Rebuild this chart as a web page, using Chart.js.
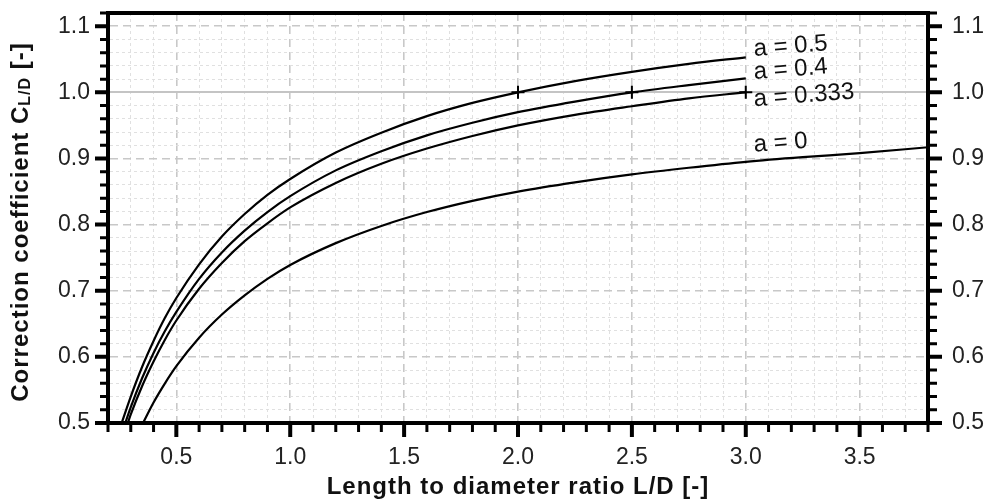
<!DOCTYPE html>
<html>
<head>
<meta charset="utf-8">
<script src="https://cdn.jsdelivr.net/npm/chart.js@4.4.1/dist/chart.umd.min.js"></script>
<style>
  html, body { margin: 0; padding: 0; background: #fff; }
  #wrap { width: 988px; height: 499px; position: relative; }
</style>
</head>
<body>
<div id="wrap"><canvas id="mycanvas"></canvas></div>
<script>
// curve values: L/D and C_L/D for each a
var ld_a05 = [0.26, 0.30, 0.35, 0.40, 0.45, 0.50, 0.60, 0.70, 0.80, 0.90, 1.00, 1.20, 1.40, 1.60, 1.80, 2.00, 2.25, 2.50, 2.75, 3.00];
var c_a05  = [0.500, 0.540, 0.585, 0.624, 0.659, 0.689, 0.740, 0.782, 0.816, 0.845, 0.869, 0.909, 0.939, 0.964, 0.984, 1.000, 1.017, 1.031, 1.043, 1.053];

var ld_a04 = [0.276, 0.30, 0.35, 0.40, 0.45, 0.50, 0.60, 0.70, 0.80, 0.90, 1.00, 1.20, 1.40, 1.60, 1.80, 2.00, 2.25, 2.50, 2.75, 3.00];
var c_a04  = [0.500, 0.524, 0.568, 0.606, 0.639, 0.668, 0.718, 0.758, 0.791, 0.819, 0.843, 0.882, 0.911, 0.935, 0.954, 0.970, 0.986, 1.000, 1.011, 1.021];

var ld_a0333 = [0.287, 0.30, 0.35, 0.40, 0.45, 0.50, 0.60, 0.70, 0.80, 0.90, 1.00, 1.20, 1.40, 1.60, 1.80, 2.00, 2.25, 2.50, 2.75, 3.00];
var c_a0333  = [0.500, 0.513, 0.556, 0.593, 0.626, 0.655, 0.703, 0.742, 0.775, 0.802, 0.826, 0.863, 0.892, 0.915, 0.934, 0.950, 0.966, 0.979, 0.991, 1.000];

var ld_a0 = [0.354, 0.40, 0.45, 0.50, 0.60, 0.70, 0.80, 0.90, 1.00, 1.20, 1.40, 1.60, 1.80, 2.00, 2.25, 2.50, 2.75, 3.00, 3.25, 3.50, 3.80];
var c_a0  = [0.500, 0.531, 0.560, 0.586, 0.629, 0.664, 0.693, 0.718, 0.739, 0.772, 0.798, 0.819, 0.836, 0.850, 0.864, 0.876, 0.886, 0.895, 0.902, 0.908, 0.917];

// points where curves reach C = 1 (plus markers)
var mark_ld = [2.0, 2.5, 3.0];
var mark_c  = [1.0, 1.0, 1.0];

var curveNames = ['a = 0.5', 'a = 0.4', 'a = 0.333', 'a = 0'];

var xTitle = 'Length to diameter ratio L/D [-]';
var yTitleMain = 'Correction coefficient C';
var yTitleSub = 'L/D';
var yTitleEnd = ' [-]';

function pts(xs, ys) {
  var out = [];
  for (var i in xs) out.push({x: xs[i], y: ys[i]});
  return out;
}
function onStep(v, step) {
  return Math.abs(v / step - Math.round(v / step)) < 1e-6;
}

var FONT = '"Liberation Sans", Arial, Helvetica, sans-serif';
Chart.defaults.font.family = FONT;
Chart.defaults.color = '#222';

// where the curve names sit (data coords, left end of text)
var nameSpots = [
  {x: 3.035, y: 1.065},
  {x: 3.035, y: 1.030},
  {x: 3.035, y: 0.989},
  {x: 3.035, y: 0.920}
];

var extras = {
  id: 'extras',
  afterDraw: function(chart) {
    var ctx = chart.ctx, area = chart.chartArea;
    var sx = chart.scales.x, sy = chart.scales.y;

    // tick marks outside the frame
    ctx.save();
    ctx.strokeStyle = '#000';
    sx.ticks.forEach(function(t) {
      var major = onStep(t.value, 0.5);
      var px = sx.getPixelForValue(t.value);
      ctx.lineWidth = major ? 4 : 3;
      ctx.beginPath();
      ctx.moveTo(px, area.bottom);
      ctx.lineTo(px, area.bottom + (major ? 14 : 9));
      ctx.stroke();
    });
    sy.ticks.forEach(function(t) {
      var major = onStep(t.value, 0.1);
      var py = sy.getPixelForValue(t.value);
      var len = major ? 13 : 8;
      ctx.lineWidth = major ? 4 : 3;
      ctx.beginPath();
      ctx.moveTo(area.left, py);
      ctx.lineTo(area.left - len, py);
      ctx.moveTo(area.right, py);
      ctx.lineTo(area.right + len + 1, py);
      ctx.stroke();
    });
    ctx.restore();

    // curve names
    ctx.save();
    ctx.fillStyle = '#111';
    ctx.font = '24px ' + FONT;
    ctx.textAlign = 'left';
    ctx.textBaseline = 'middle';
    curveNames.forEach(function(name, i) {
      var p = nameSpots[i];
      ctx.save();
      ctx.translate(sx.getPixelForValue(p.x), sy.getPixelForValue(p.y));
      ctx.rotate(-4.5 * Math.PI / 180);
      ctx.fillText(name, 0, 0);
      ctx.restore();
    });
    ctx.restore();

    // x axis title
    ctx.save();
    ctx.fillStyle = '#111';
    ctx.font = 'bold 24px ' + FONT;
    ctx.letterSpacing = '1px';
    ctx.textAlign = 'center';
    ctx.textBaseline = 'alphabetic';
    ctx.fillText(xTitle, (area.left + area.right) / 2, 494);
    ctx.restore();

    // y axis title with subscript
    ctx.save();
    ctx.fillStyle = '#111';
    ctx.letterSpacing = '1px';
    ctx.translate(21, (area.top + area.bottom) / 2 + 4);
    ctx.rotate(-Math.PI / 2);
    ctx.textAlign = 'left';
    ctx.textBaseline = 'middle';
    var fMain = 'bold 24px ' + FONT, fSub = 'bold 16px ' + FONT;
    ctx.font = fMain;
    var w1 = ctx.measureText(yTitleMain).width;
    var w3 = ctx.measureText(yTitleEnd).width;
    ctx.font = fSub;
    var w2 = ctx.measureText(yTitleSub).width;
    var x0 = -(w1 + w2 + w3) / 2;
    ctx.font = fMain;
    ctx.fillText(yTitleMain, x0, 0);
    ctx.font = fSub;
    ctx.fillText(yTitleSub, x0 + w1, 5);
    ctx.font = fMain;
    ctx.fillText(yTitleEnd, x0 + w1 + w2, 0);
    ctx.restore();
  }
};

function gridColor(step, isY) {
  return function(c) {
    if (!c.tick) return '#ccc';
    if (isY && Math.abs(c.tick.value - 1.0) < 1e-6) return '#c4c4c4';
    return onStep(c.tick.value, step) ? '#c8c8c8' : '#e0e0e0';
  };
}
function gridWidth(step, isY) {
  return function(c) {
    if (!c.tick) return 1;
    if (isY && Math.abs(c.tick.value - 1.0) < 1e-6) return 2;
    return onStep(c.tick.value, step) ? 1.6 : 1;
  };
}
function gridDash(step, isY) {
  return function(c) {
    if (!c.tick) return [];
    if (isY && Math.abs(c.tick.value - 1.0) < 1e-6) return [];
    return onStep(c.tick.value, step) ? [8, 5] : [3, 3];
  };
}
function fitV(w) {
  return function(s) { s.width = w; s.paddingTop = 0; s.paddingBottom = 0; };
}
function fitH(h) {
  return function(s) { s.height = h; s.paddingLeft = 0; s.paddingRight = 0; };
}

var lineStyle = {
  showLine: true,
  borderColor: '#000',
  borderWidth: 2.2,
  pointRadius: 0,
  fill: false,
  cubicInterpolationMode: 'monotone'
};

var chartdata = {
  datasets: [
    Object.assign({label: curveNames[0], data: pts(ld_a05, c_a05)}, lineStyle),
    Object.assign({label: curveNames[1], data: pts(ld_a04, c_a04)}, lineStyle),
    Object.assign({label: curveNames[2], data: pts(ld_a0333, c_a0333)}, lineStyle),
    Object.assign({label: curveNames[3], data: pts(ld_a0, c_a0)}, lineStyle),
    {
      label: 'C = 1',
      data: pts(mark_ld, mark_c),
      showLine: false,
      pointStyle: 'cross',
      pointRadius: 6.5,
      pointBorderWidth: 2,
      pointBorderColor: '#000',
      borderColor: '#000'
    }
  ]
};

var ctx = document.getElementById('mycanvas');
var graph = new Chart(ctx, {
  type: 'scatter',
  data: chartdata,
  plugins: [extras],
  options: {
    responsive: true,
    maintainAspectRatio: false,
    animation: false,
    events: [],
    layout: {padding: 0},
    plugins: {legend: {display: false}, tooltip: {enabled: false}},
    scales: {
      x: {
        type: 'linear', position: 'bottom', min: 0.2, max: 3.8,
        afterFit: fitH(76),
        ticks: {
          stepSize: 0.1, autoSkip: false, maxRotation: 0, padding: 21,
          font: {size: 23}, color: '#222',
          callback: function(v) { return onStep(v, 0.5) ? v.toFixed(1) : ''; }
        },
        grid: {color: gridColor(0.5, false), lineWidth: gridWidth(0.5, false), drawTicks: false},
        border: {display: true, color: '#000', width: 4, dash: gridDash(0.5, false)}
      },
      x2: {
        type: 'linear', position: 'top', min: 0.2, max: 3.8,
        afterFit: fitH(13),
        ticks: {display: false},
        grid: {drawOnChartArea: false, drawTicks: false},
        border: {display: true, color: '#000', width: 4}
      },
      y: {
        type: 'linear', position: 'left', min: 0.5, max: 1.12,
        afterFit: fitV(108),
        ticks: {
          stepSize: 0.02, autoSkip: false, padding: 18,
          font: {size: 23}, color: '#222',
          callback: function(v) { return onStep(v, 0.1) ? v.toFixed(1) : ''; }
        },
        grid: {color: gridColor(0.1, true), lineWidth: gridWidth(0.1, true), drawTicks: false},
        border: {display: true, color: '#000', width: 4, dash: gridDash(0.1, true)}
      },
      y2: {
        type: 'linear', position: 'right', min: 0.5, max: 1.12,
        afterFit: fitV(60),
        ticks: {
          stepSize: 0.02, autoSkip: false, padding: 24,
          font: {size: 23}, color: '#222',
          callback: function(v) { return onStep(v, 0.1) ? v.toFixed(1) : ''; }
        },
        grid: {drawOnChartArea: false, drawTicks: false},
        border: {display: true, color: '#000', width: 4}
      }
    }
  }
});
</script>
</body>
</html>
